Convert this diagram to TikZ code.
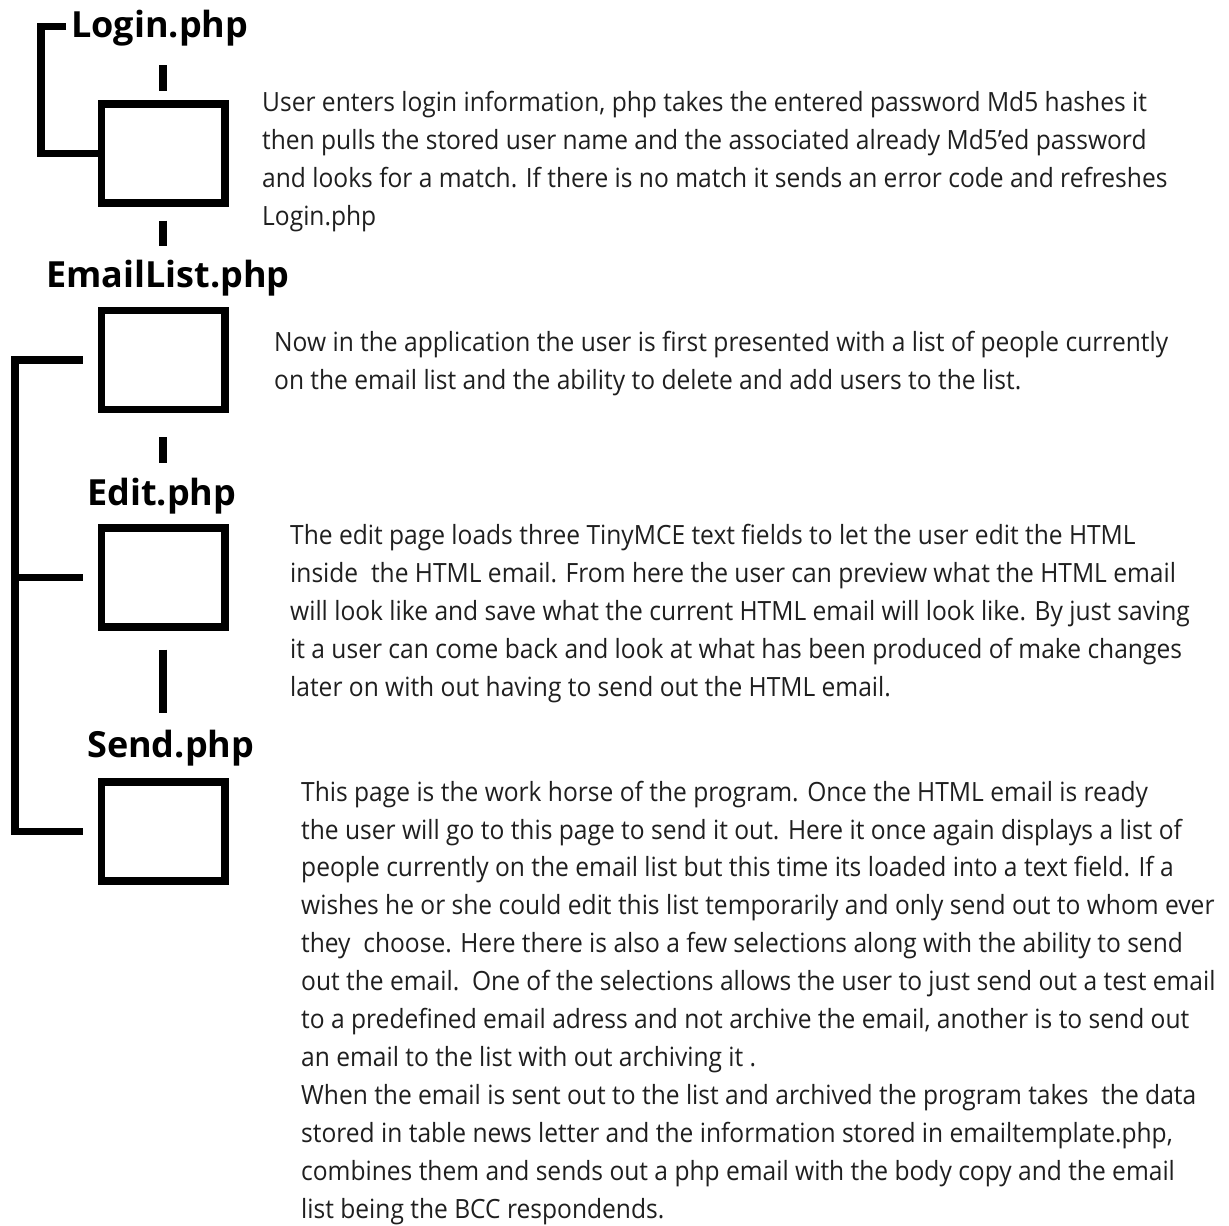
\documentclass[tikz,border=0pt]{standalone}
\usepackage{fontspec}
\setmainfont{Open Sans}
\newfontfamily\bodyfont{Open Sans}[FakeStretch=0.927]
\begin{document}
\begin{tikzpicture}[x=1pt,y=-1pt,
  box/.style={draw, line width=7.5pt, minimum width=123.5pt, minimum height=99pt, inner sep=0pt, line join=miter},
  head/.style={anchor=base west, inner sep=0pt, font=\fontsize{36pt}{42pt}\selectfont\bfseries},
  para/.style={anchor=base west, inner sep=0pt, align=left, text=black!88, font=\bodyfont\fontsize{26.5pt}{37.9pt}\selectfont},
  bracket/.style={line width=7.5pt, line join=miter},
  tick/.style={line width=8pt}]
\useasboundingbox (0,0) rectangle (1229,1226);
% headings
\node[head] (login) at (71,37) {Login.php};
\node[head] (emaillist) at (46,287) {EmailList.php};
\node[head] (edit) at (87,505) {Edit.php};
\node[head] (send) at (87,757) {Send.php};
% boxes
\node[box] (b1) at (163,153.5) {};
\node[box] (b2) at (163,360) {};
\node[box] (b3) at (163,577.5) {};
\node[box] (b4) at (163,831.5) {};
% tick coordinates
\coordinate (t1) at (163,65);
\coordinate (t2) at (163,246);
\coordinate (t3) at (163,463);
\coordinate (t4) at (163,713);
\coordinate (lb) at (41,153.5);
\coordinate (mb) at (15,360);
% ticks
\draw[tick, shorten >=9.75pt] (t1) -- (b1.north);
\draw[tick, shorten <=13.75pt] (b1.south) -- (t2);
\draw[tick, shorten <=23.75pt] (b2.south) -- (t3);
\draw[tick, shorten <=18.75pt] (b3.south) -- (t4);
% brackets
\draw[bracket] ([xshift=-5pt,yshift=1pt]login.west) -| (lb) |- (b1.west);
\draw[bracket] ([xshift=-14.75pt]b2.west) -| (mb) |- ([xshift=-14.75pt]b4.west);
\draw[bracket] ([xshift=-14.75pt]b3.west) -- (b3.west -| mb);
% paragraphs (anchored at the baseline of their last line)
\node[para] (p1) at (262,225) {User enters login information, php takes the entered password Md5 hashes it\\
then pulls the stored user name and the associated already Md5’ed password\\
and looks for a match. If there is no match it sends an error code and refreshes\\
Login.php};
\node[para] (p2) at (274,389) {Now in the application the user is first presented with a list of people currently\\
on the email list and the ability to delete and add users to the list.};
\node[para] (p3) at (290,696) {The edit page loads three TinyMCE text fields to let the user edit the HTML\\
inside\ \ the HTML email. From here the user can preview what the HTML email\\
will look like and save what the current HTML email will look like. By just saving\\
it a user can come back and look at what has been produced of make changes\\
later on with out having to send out the HTML email.};
\node[para] (p4) at (301,1218) {This page is the work horse of the program. Once the HTML email is ready\\
the user will go to this page to send it out. Here it once again displays a list of\\
people currently on the email list but this time its loaded into a text field. If a\\
wishes he or she could edit this list temporarily and only send out to whom ever\\
they\ \ choose. Here there is also a few selections along with the ability to send\\
out the email.\ \ One of the selections allows the user to just send out a test email\\
to a predefined email adress and not archive the email, another is to send out\\
an email to the list with out archiving it .\\
When the email is sent out to the list and archived the program takes\ \ the data\\
stored in table news letter and the information stored in emailtemplate.php,\\
combines them and sends out a php email with the body copy and the email\\
list being the BCC respondends.};
\end{tikzpicture}
\end{document}
